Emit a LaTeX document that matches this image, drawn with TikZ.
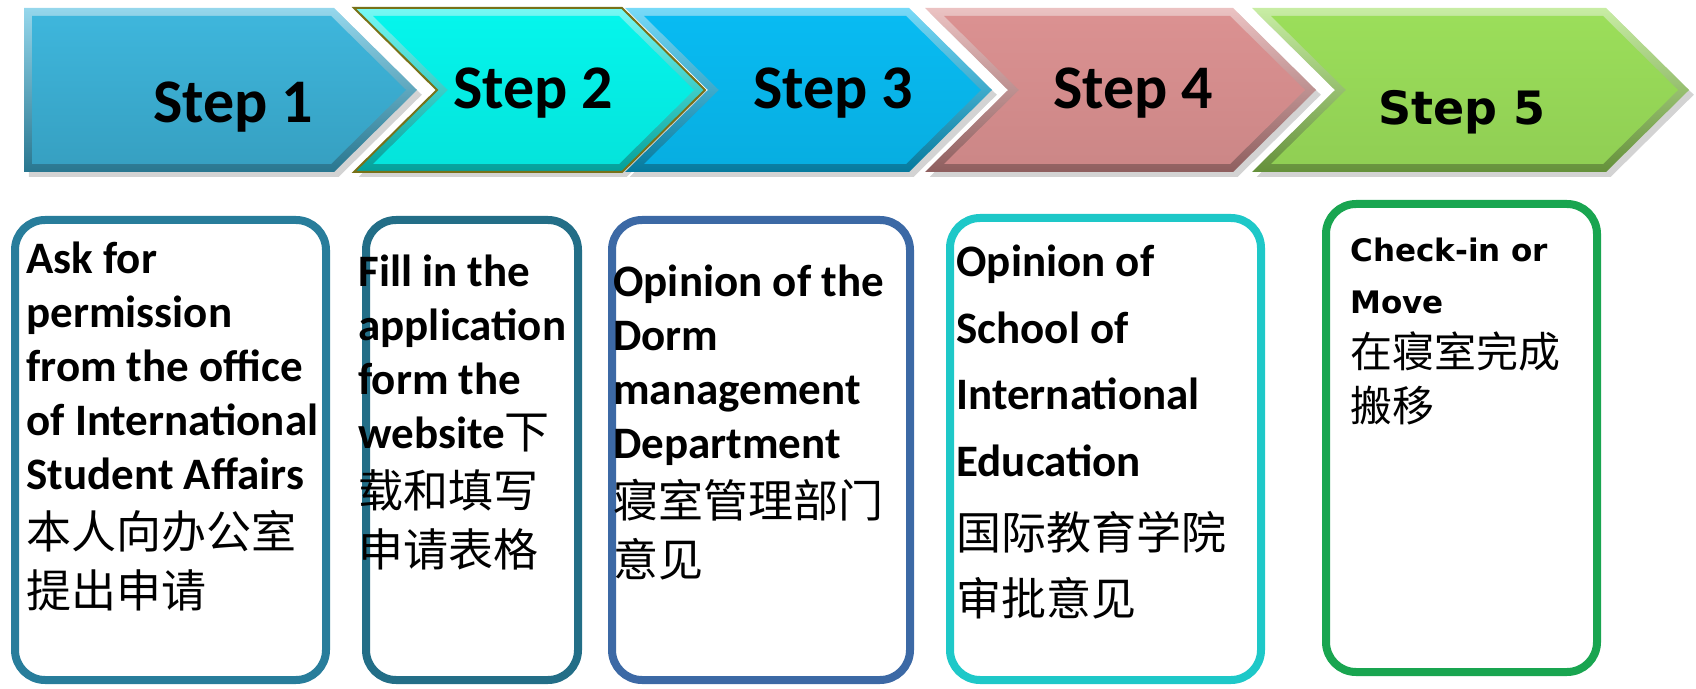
\documentclass[tikz,border=0pt]{standalone}
\usepackage{fontspec}
\setmainfont{Carlito}
\newfontfamily\cjk{Noto Sans CJK SC}
\newfontfamily\verd{DejaVu Sans}
\usetikzlibrary{positioning,shadows}

\definecolor{stepA}{RGB}{62,182,220}
\definecolor{stepB}{RGB}{5,245,236}
\definecolor{stepC}{RGB}{8,187,242}
\definecolor{stepD}{RGB}{219,145,145}
\definecolor{stepE}{RGB}{155,222,90}
\definecolor{edgeA}{RGB}{40,125,155}
\definecolor{edgeB}{RGB}{35,110,135}
\definecolor{edgeC}{RGB}{60,105,165}
\definecolor{edgeD}{RGB}{30,200,200}
\definecolor{edgeE}{RGB}{25,165,80}

\newcommand\zh[1]{{\cjk\mdseries #1}}

\tikzset{
    card/.style={draw=#1, line width=4pt, rounded corners=15pt, fill=white, inner sep=0pt},
    steplabel/.style={font=\fontsize{31}{36}\selectfont\bfseries, inner sep=0pt, anchor=base},
    cardtext/.style={font=\fontsize{22.5}{27}\selectfont\bfseries, align=left, inner sep=0pt},
}

\begin{document}
\begin{tikzpicture}[x=0.5pt,y=-0.5pt]
    \useasboundingbox (0,0) rectangle (1696,689);

    % the five step arrows
    \shade[top color=stepA!55!white, bottom color=stepA!65!black, drop shadow={opacity=.35}]
        (24,8) -- (334,8) -- (417,90) -- (334,172) -- (24,172) -- cycle;
    \shade[top color=stepA, bottom color=stepA!88!black]
        (32,16) -- (331,16) -- (406,90) -- (331,164) -- (32,164) -- cycle;
    \foreach \l/\s/\c/\o in {354/622/stepB/olive!80!black, 625/909/stepC/none,
                             925/1233/stepD/none, 1252/1606/stepE/none} {
        \shade[top color=\c!55!white, bottom color=\c!65!black, draw=\o, line width=1pt,
               drop shadow={opacity=.35}]
            (\l,8) -- (\s,8) -- ({\s+83},90) -- (\s,172) -- (\l,172) -- ({\l+83},90) -- cycle;
        \shade[top color=\c, bottom color=\c!93!black]
            ({\l+19},16) -- ({\s-3},16) -- ({\s+72},90) -- ({\s-3},164) -- ({\l+19},164) -- ({\l+94},90) -- cycle;
    }

    \node[steplabel] (s1) at (233,123) {Step 1};
    \node[steplabel] (s2) at (533,109) {Step 2};
    \node[steplabel] (s3) at (833,109) {Step 3};
    \node[steplabel] (s4) at (1133,109) {Step 4};
    \node[steplabel, font=\verd\fontsize{23}{27}\selectfont\bfseries] (s5) at (1462,125) {Step 5};

    % the cards below
    \node[card=edgeA, minimum width=155.5pt, minimum height=230pt] (b1) at (170.5,450) {};
    \node[card=edgeB, minimum width=106pt, minimum height=230pt] (b2) at (472,450) {};
    \node[card=edgeC, minimum width=149pt, minimum height=230pt] (b3) at (761,450) {};
    \node[card=edgeD, minimum width=155.5pt, minimum height=231pt] (b4) at (1105.5,449) {};
    \node[card=edgeE, minimum width=135.5pt, minimum height=234pt] (b5) at (1461.5,438) {};

    \node[cardtext, below right=13pt and 7.5pt of b1.north west] (t1)
        {Ask for\\permission\\from the office\\of International\\Student Affairs\\[2.5pt]
         \zh{本人向办公室}\\[2.5pt]\zh{提出申请}};
    \node[cardtext, below right=19.5pt and -2pt of b2.north west] (t2)
        {Fill in the\\application\\form the\\website\zh{下}\\[2.5pt]\zh{载和填写}\\[2.5pt]\zh{申请表格}};
    \node[cardtext, below right=24.5pt and 2.5pt of b3.north west] (t3)
        {Opinion of the\\Dorm\\management\\Department\\[2.5pt]\zh{寝室管理部门}\\[2.5pt]\zh{意见}};
    \node[cardtext, font=\fontsize{22.5}{33.2}\selectfont\bfseries,
          below right=15.5pt and 5pt of b4.north west] (t4)
        {Opinion of\\School of\\International\\Education\\[3.5pt]\zh{国际教育学院}\\\zh{审批意见}};
    \node[cardtext, font=\verd\fontsize{15.5}{26}\selectfont\bfseries,
          below right=19pt and 14pt of b5.north west] (t5)
        {Check-in or\\Move\\[1pt]\zh{\fontsize{21}{26}\selectfont 在寝室完成}\\[1pt]\zh{\fontsize{21}{26}\selectfont 搬移}};
\end{tikzpicture}
\end{document}
